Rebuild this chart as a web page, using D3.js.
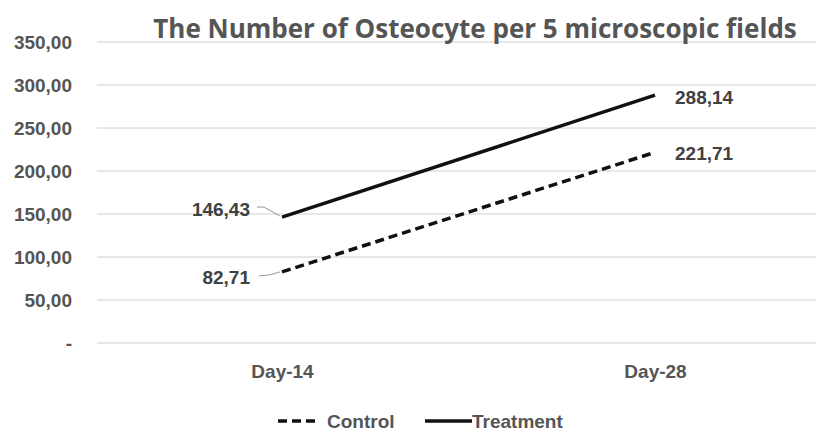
<!DOCTYPE html>
<html>
<head>
<meta charset="utf-8">
<script src="https://cdn.jsdelivr.net/npm/d3@7"></script>
<style>
  body { margin: 0; background: #fff; }
  text { font-family: "Liberation Sans", Arial, sans-serif; }
</style>
</head>
<body>
<div id="chart"></div>
<script>
// data
var days = ["Day-14", "Day-28"];
var control = [82.71, 221.71];
var treatment = [146.43, 288.14];
var yTicks = [0, 50, 100, 150, 200, 250, 300, 350];

var width = 816, height = 433;

var svg = d3.select("#chart")
  .append("svg")
    .attr("width", width)
    .attr("height", height);

var x = d3.scalePoint()
  .domain(days)
  .range([282, 655]);

var y = d3.scaleLinear()
  .domain([0, 350])
  .range([343, 42]);

function fmt(v) {
  if (v === 0) return "-";
  return d3.format(".2f")(v).replace(".", ",");
}

// gridlines
svg.append("g")
  .selectAll("line")
  .data(yTicks)
  .enter()
  .append("line")
    .attr("x1", 97)
    .attr("x2", width)
    .attr("y1", function(d) { return y(d); })
    .attr("y2", function(d) { return y(d); })
    .attr("stroke", "#d0d0d0")
    .attr("stroke-width", 1);

// y axis labels
var yAxis = svg.append("g")
  .attr("transform", "translate(72,0)")
  .call(d3.axisLeft(y).tickValues(yTicks).tickFormat(fmt).tickSize(0).tickPadding(0));
yAxis.select(".domain").remove();
yAxis.selectAll("text")
  .attr("fill", "#555")
  .style("font-size", "19px")
  .style("font-weight", "bold")
  .style("font-family", "'Liberation Sans', Arial, sans-serif");

// x axis labels
var xAxis = svg.append("g")
  .attr("transform", "translate(0,364)")
  .call(d3.axisBottom(x).tickSize(0).tickPadding(0));
xAxis.select(".domain").remove();
xAxis.selectAll("text")
  .attr("fill", "#555")
  .style("font-size", "19px")
  .style("font-weight", "bold")
  .style("font-family", "'Liberation Sans', Arial, sans-serif");

// title
svg.append("text")
  .attr("x", 475)
  .attr("y", 38)
  .attr("text-anchor", "middle")
  .attr("fill", "#555")
  .style("font-size", "26px")
  .style("font-weight", "bold")
  .style("font-family", "'Open Sans', sans-serif")
  .text("The Number of Osteocyte per 5 microscopic fields");

var line = d3.line()
  .x(function(d, i) { return x(days[i]); })
  .y(function(d) { return y(d); });

svg.append("path")
  .datum(control)
  .attr("d", line)
  .attr("fill", "none")
  .attr("stroke", "#111")
  .attr("stroke-width", 3.5)
  .attr("stroke-dasharray", "9,5");

svg.append("path")
  .datum(treatment)
  .attr("d", line)
  .attr("fill", "none")
  .attr("stroke", "#111")
  .attr("stroke-width", 3.5);

// data labels
var labelStyle = function(sel) {
  sel.attr("fill", "#404040")
    .style("font-size", "19px")
    .style("font-weight", "bold");
};

// Day-14 labels sit left of point, with leader lines
svg.append("path")
  .attr("d", "M257," + (y(treatment[0]) - 10) + " L264," + (y(treatment[0]) - 10) + " L" + (x(days[0]) - 2) + "," + (y(treatment[0]) - 1))
  .attr("fill", "none").attr("stroke", "#999").attr("stroke-width", 1);
svg.append("text")
  .attr("x", 250).attr("y", y(treatment[0]) - 1)
  .attr("text-anchor", "end")
  .text(fmt(treatment[0]))
  .call(labelStyle);

svg.append("path")
  .attr("d", "M259," + (y(control[0]) + 4) + " L270," + (y(control[0]) + 3) + " L" + (x(days[0]) - 2) + "," + (y(control[0])))
  .attr("fill", "none").attr("stroke", "#999").attr("stroke-width", 1);
svg.append("text")
  .attr("x", 250).attr("y", y(control[0]) + 12)
  .attr("text-anchor", "end")
  .text(fmt(control[0]))
  .call(labelStyle);

// Day-28 labels right of point
svg.append("text")
  .attr("x", x(days[1]) + 20).attr("y", y(treatment[1]) + 9)
  .text(fmt(treatment[1]))
  .call(labelStyle);
svg.append("text")
  .attr("x", x(days[1]) + 20).attr("y", y(control[1]) + 8)
  .text(fmt(control[1]))
  .call(labelStyle);

// legend
var lg = svg.append("g").attr("transform", "translate(0,421)");
lg.append("line")
  .attr("x1", 278).attr("x2", 318).attr("y1", 0).attr("y2", 0)
  .attr("stroke", "#111").attr("stroke-width", 3.5).attr("stroke-dasharray", "9,5");
lg.append("text")
  .attr("x", 327).attr("y", 7)
  .attr("fill", "#555")
  .style("font-size", "19px").style("font-weight", "bold")
  .text("Control");
lg.append("line")
  .attr("x1", 425).attr("x2", 472).attr("y1", 0).attr("y2", 0)
  .attr("stroke", "#111").attr("stroke-width", 3.5);
lg.append("text")
  .attr("x", 472).attr("y", 7)
  .attr("fill", "#555")
  .style("font-size", "19px").style("font-weight", "bold")
  .text("Treatment");
</script>
</body>
</html>
